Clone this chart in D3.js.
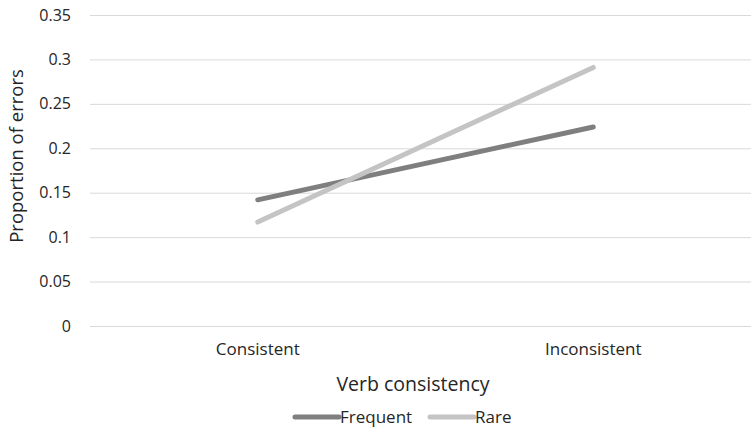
<!DOCTYPE html>
<html>
<head>
<meta charset="utf-8">
<script src="https://cdn.jsdelivr.net/npm/d3@7"></script>
<style>
  body { margin: 0; background: #fff; }
  text { font-family: 'Open Sans', sans-serif; fill: #262626; }
</style>
</head>
<body>
<div id="chart"></div>
<script>
const categories = ['Consistent', 'Inconsistent'];
const frequent = [0.142, 0.224];
const rare = [0.117, 0.291];
const yTicks = [0, 0.05, 0.1, 0.15, 0.2, 0.25, 0.3, 0.35];
const seriesList = [
  { name: 'Frequent', values: frequent, color: '#7f7f7f' },
  { name: 'Rare', values: rare, color: '#c4c4c4' }
];

const W = 751, H = 430;
const plotLeft = 90, plotRight = 761, plotTop = 15, plotBottom = 326;

const svg = d3.select('#chart').append('svg').attr('width', W).attr('height', H);

const x = d3.scaleBand().domain(categories).range([plotLeft, plotRight]).padding(0);
const y = d3.scaleLinear().domain([0, 0.35]).range([plotBottom, plotTop]);

// gridlines + y labels
svg.append('g')
  .attr('transform', `translate(${plotLeft},0)`)
  .call(d3.axisLeft(y).tickValues(yTicks).tickSize(-(plotRight - plotLeft)).tickPadding(19).tickFormat(d => String(+d.toFixed(2))))
  .call(g => g.select('.domain').remove())
  .call(g => g.selectAll('.tick line').attr('stroke', '#d9d9d9').attr('stroke-width', 1))
  .call(g => g.selectAll('.tick text').attr('fill', '#262626').attr('font-size', '16px').attr('font-family', 'Open Sans, sans-serif'));

// category labels
svg.append('g')
  .attr('transform', `translate(0,${plotBottom})`)
  .call(d3.axisBottom(x).tickSize(0).tickPadding(17))
  .call(g => g.select('.domain').remove())
  .call(g => g.selectAll('.tick text').attr('fill', '#262626').attr('font-size', '17px').attr('font-family', 'Open Sans, sans-serif'));

const line = d3.line()
  .x((d, i) => x(categories[i]) + x.bandwidth() / 2)
  .y(d => y(d));

seriesList.forEach(s => {
  svg.append('path').datum(s.values)
    .attr('fill', 'none').attr('stroke', s.color).attr('stroke-width', 5)
    .attr('stroke-linecap', 'round').attr('d', line);
});

// axis titles
svg.append('text').attr('x', 413).attr('y', 391).attr('text-anchor', 'middle')
  .attr('font-size', '19.5px').text('Verb consistency');
svg.append('text').attr('transform', 'rotate(-90)').attr('x', -156).attr('y', 23)
  .attr('text-anchor', 'middle').attr('font-size', '18.5px').text('Proportion of errors');

// legend
const legendX = [295, 430];
seriesList.forEach((s, i) => {
  const g = svg.append('g').attr('transform', `translate(${legendX[i]},417)`);
  g.append('line').attr('x1', 0).attr('x2', 44).attr('y1', 0).attr('y2', 0)
    .attr('stroke', s.color).attr('stroke-width', 5).attr('stroke-linecap', 'round');
  g.append('text').attr('x', 45).attr('y', 6).attr('font-size', '17px').text(s.name);
});
</script>
</body>
</html>
